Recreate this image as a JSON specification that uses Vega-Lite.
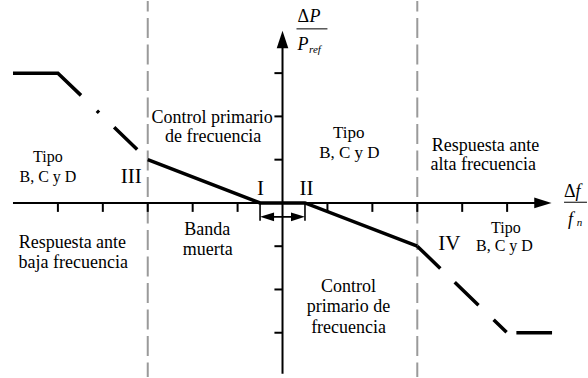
{
  "$schema": "https://vega.github.io/schema/vega-lite/v6.json",
  "width": 588,
  "height": 378,
  "autosize": {"type": "fit", "contains": "padding"},
  "padding": 0,
  "background": "white",
  "config": {"view": {"stroke": null}},
  "encoding": {
    "x": {"field": "x", "type": "quantitative", "scale": {"domain": [-6.289, 6.778], "nice": false, "zero": false}, "axis": null},
    "y": {"field": "y", "type": "quantitative", "scale": {"domain": [-4.023, 4.667], "nice": false, "zero": false}, "axis": null}
  },
  "datasets": {
    "limites": [
      {"x": -3, "y": 4.667, "y2": -4.023},
      {"x": 3, "y": 4.667, "y2": -4.023}
    ],
    "ejes": [
      {"x": -6, "y": 0, "x2": 5.8, "y2": 0},
      {"x": 0, "y": -3.95, "x2": 0, "y2": 3.85}
    ],
    "marcas": [
      {"x": -5, "y": 0, "x2": -5, "y2": -0.207},
      {"x": -4, "y": 0, "x2": -4, "y2": -0.207},
      {"x": -3, "y": 0, "x2": -3, "y2": -0.207},
      {"x": -2, "y": 0, "x2": -2, "y2": -0.207},
      {"x": -1, "y": 0, "x2": -1, "y2": -0.207},
      {"x": 1, "y": 0, "x2": 1, "y2": -0.207},
      {"x": 2, "y": 0, "x2": 2, "y2": -0.207},
      {"x": 3, "y": 0, "x2": 3, "y2": -0.207},
      {"x": 4, "y": 0, "x2": 4, "y2": -0.207},
      {"x": 5, "y": 0, "x2": 5, "y2": -0.207},
      {"x": 0, "y": 3, "x2": -0.18, "y2": 3},
      {"x": 0, "y": 2, "x2": -0.18, "y2": 2},
      {"x": 0, "y": 1, "x2": -0.18, "y2": 1},
      {"x": 0, "y": -1, "x2": -0.18, "y2": -1},
      {"x": 0, "y": -2, "x2": -0.18, "y2": -2},
      {"x": 0, "y": -3, "x2": -0.18, "y2": -3}
    ],
    "banda": [
      {"x": -0.5, "y": 0, "x2": -0.5, "y2": -0.414},
      {"x": 0.5, "y": 0, "x2": 0.5, "y2": -0.414},
      {"x": -0.4, "y": -0.322, "x2": 0.4, "y2": -0.322}
    ],
    "fracciones": [
      {"x": 0.311, "y": 4.023, "x2": 1.0, "y2": 4.023},
      {"x": 6.267, "y": 0.016, "x2": 6.778, "y2": 0.016}
    ],
    "respuesta": [
      {"tramo": "baja", "x": -6, "y": 3},
      {"tramo": "baja", "x": -5, "y": 3},
      {"tramo": "baja", "x": -3, "y": 1},
      {"tramo": "central", "x": -3, "y": 1},
      {"tramo": "central", "x": -0.5, "y": 0},
      {"tramo": "central", "x": 0.5, "y": 0},
      {"tramo": "central", "x": 3, "y": -1},
      {"tramo": "alta", "x": 3, "y": -1},
      {"tramo": "alta", "x": 5, "y": -3},
      {"tramo": "alta", "x": 6, "y": -3}
    ],
    "flechas_ejes": [
      {"dir": "arriba", "x": 0, "y": 3.777},
      {"dir": "derecha", "x": 5.796, "y": 0}
    ],
    "flechas_banda": [
      {"dir": "izquierda", "x": -0.344, "y": -0.322},
      {"dir": "derecha", "x": 0.344, "y": -0.322}
    ],
    "rotulos": [
      {"x": -1.567, "y": 1.839, "t": "Control primario"},
      {"x": -1.544, "y": 1.402, "t": "de frecuencia"},
      {"x": 4.518, "y": 1.195, "t": "Respuesta ante"},
      {"x": 4.467, "y": 0.759, "t": "alta frecuencia"},
      {"x": -4.678, "y": -1.041, "t": "Respuesta ante"},
      {"x": -4.660, "y": -1.501, "t": "baja frecuencia"},
      {"x": -1.678, "y": -0.736, "t": "Banda"},
      {"x": -1.667, "y": -1.195, "t": "muerta"},
      {"x": 1.467, "y": -2.062, "t": "Control"},
      {"x": 1.467, "y": -2.522, "t": "primario de"},
      {"x": 1.471, "y": -2.995, "t": "frecuencia"}
    ],
    "tipo_centro": [
      {"x": 1.473, "y": 1.501, "t": "Tipo"},
      {"x": 1.489, "y": 1.028, "t": "B, C y D"}
    ],
    "tipo_lados": [
      {"x": -5.222, "y": 0.949, "t": "Tipo"},
      {"x": -5.222, "y": 0.490, "t": "B, C y D"},
      {"x": 4.971, "y": -0.697, "t": "Tipo"},
      {"x": 4.940, "y": -1.120, "t": "B, C y D"}
    ],
    "zonas": [
      {"x": -3.367, "y": 0.460, "t": "III"},
      {"x": -0.489, "y": 0.184, "t": "I"},
      {"x": 0.533, "y": 0.184, "t": "II"},
      {"x": 3.711, "y": -1.080, "t": "IV"}
    ],
    "delta": [
      {"x": 0.333, "y": 4.184, "t": "Δ"},
      {"x": 6.267, "y": 0.145, "t": "Δ"}
    ],
    "variables": [
      {"x": 0.6, "y": 4.184, "t": "P"},
      {"x": 0.333, "y": 3.533, "t": "P"},
      {"x": 6.52, "y": 0.145, "t": "f"},
      {"x": 6.356, "y": -0.506, "t": "f"}
    ],
    "subindices": [
      {"x": 0.59, "y": 3.455, "t": "ref"},
      {"x": 6.55, "y": -0.54, "t": "n"}
    ]
  },
  "layer": [
    {
      "data": {"name": "limites"},
      "mark": {"type": "rule", "color": "#9a9a9a", "strokeWidth": 2, "strokeDash": [20, 6.5], "strokeDashOffset": 9.5},
      "encoding": {"y2": {"field": "y2"}}
    },
    {
      "data": {"name": "ejes"},
      "mark": {"type": "rule", "color": "black", "strokeWidth": 2},
      "encoding": {"x2": {"field": "x2"}, "y2": {"field": "y2"}}
    },
    {
      "data": {"name": "marcas"},
      "mark": {"type": "rule", "color": "black", "strokeWidth": 2},
      "encoding": {"x2": {"field": "x2"}, "y2": {"field": "y2"}}
    },
    {
      "data": {"name": "banda"},
      "mark": {"type": "rule", "color": "black", "strokeWidth": 1.6},
      "encoding": {"x2": {"field": "x2"}, "y2": {"field": "y2"}}
    },
    {
      "data": {"name": "fracciones"},
      "mark": {"type": "rule", "color": "black", "strokeWidth": 1},
      "encoding": {"x2": {"field": "x2"}, "y2": {"field": "y2"}}
    },
    {
      "data": {"name": "respuesta"},
      "transform": [{"filter": "datum.tramo === 'central'"}],
      "mark": {"type": "line", "color": "black", "strokeWidth": 3.5, "strokeJoin": "miter"},
      "encoding": {}
    },
    {
      "data": {"name": "respuesta"},
      "transform": [{"filter": "datum.tramo === 'baja'"}],
      "mark": {"type": "line", "color": "black", "strokeWidth": 3.5, "strokeJoin": "miter", "strokeDash": [77, 22, 3, 21, 32, 40]},
      "encoding": {}
    },
    {
      "data": {"name": "respuesta"},
      "transform": [{"filter": "datum.tramo === 'alta'"}],
      "mark": {"type": "line", "color": "black", "strokeWidth": 3.5, "strokeJoin": "miter", "strokeDash": [32, 20, 33, 21, 18, 10, 60, 0]},
      "encoding": {}
    },
    {
      "data": {"name": "flechas_ejes"},
      "mark": {"type": "point", "filled": true, "color": "black", "opacity": 1, "strokeWidth": 0},
      "encoding": {
        "shape": {"field": "dir", "type": "nominal", "scale": {"domain": ["arriba", "derecha", "izquierda"], "range": ["M0,-1L0.67,1L-0.67,1Z", "M1,0L-1,-0.62L-1,0.62Z", "M-1,0L1,-0.62L1,0.62Z"]}, "legend": null},
        "size": {"value": 300}
      }
    },
    {
      "data": {"name": "flechas_banda"},
      "mark": {"type": "point", "filled": true, "color": "black", "opacity": 1, "strokeWidth": 0},
      "encoding": {
        "shape": {"field": "dir", "type": "nominal", "scale": {"domain": ["arriba", "derecha", "izquierda"], "range": ["M0,-1L0.67,1L-0.67,1Z", "M1,0L-1,-0.62L-1,0.62Z", "M-1,0L1,-0.62L1,0.62Z"]}, "legend": null},
        "size": {"value": 196}
      }
    },
    {
      "data": {"name": "rotulos"},
      "mark": {"type": "text", "font": "Liberation Serif, Times New Roman, serif", "fontSize": 18, "align": "center", "baseline": "alphabetic", "color": "black"},
      "encoding": {"text": {"field": "t"}}
    },
    {
      "data": {"name": "tipo_centro"},
      "mark": {"type": "text", "font": "Liberation Serif, Times New Roman, serif", "fontSize": 17, "align": "center", "baseline": "alphabetic", "color": "black"},
      "encoding": {"text": {"field": "t"}}
    },
    {
      "data": {"name": "tipo_lados"},
      "mark": {"type": "text", "font": "Liberation Serif, Times New Roman, serif", "fontSize": 16, "align": "center", "baseline": "alphabetic", "color": "black"},
      "encoding": {"text": {"field": "t"}}
    },
    {
      "data": {"name": "zonas"},
      "mark": {"type": "text", "font": "Liberation Serif, Times New Roman, serif", "fontSize": 21, "align": "center", "baseline": "alphabetic", "color": "black"},
      "encoding": {"text": {"field": "t"}}
    },
    {
      "data": {"name": "delta"},
      "mark": {"type": "text", "font": "Liberation Serif, Times New Roman, serif", "fontSize": 18, "align": "left", "baseline": "alphabetic", "color": "black"},
      "encoding": {"text": {"field": "t"}}
    },
    {
      "data": {"name": "variables"},
      "mark": {"type": "text", "font": "Liberation Serif, Times New Roman, serif", "fontSize": 18, "fontStyle": "italic", "align": "left", "baseline": "alphabetic", "color": "black"},
      "encoding": {"text": {"field": "t"}}
    },
    {
      "data": {"name": "subindices"},
      "mark": {"type": "text", "font": "Liberation Serif, Times New Roman, serif", "fontSize": 11, "fontStyle": "italic", "align": "left", "baseline": "alphabetic", "color": "black"},
      "encoding": {"text": {"field": "t"}}
    }
  ]
}
